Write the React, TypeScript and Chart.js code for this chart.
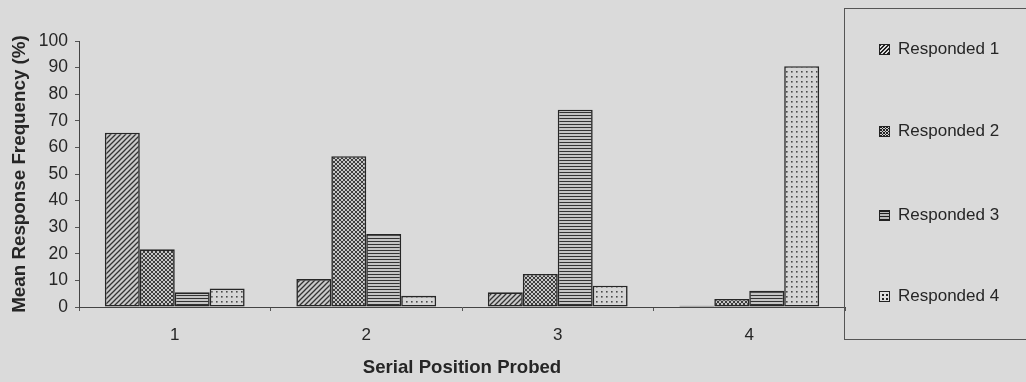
import React, { useEffect, useRef } from 'react';
import { Chart, registerables } from 'chart.js';

Chart.register(...registerables);

const categories = ['1', '2', '3', '4'];
const seriesLabels = ['Responded 1', 'Responded 2', 'Responded 3', 'Responded 4'];
const responded1 = [65.5, 10.5, 5.5, 0.5];
const responded2 = [21.7, 56.7, 12.4, 3.0];
const responded3 = [5.5, 27.4, 74.2, 6.1];
const responded4 = [7.0, 4.2, 8.0, 90.5];
const yMin = 0;
const yMax = 100;
const yStep = 10;
const xTitle = 'Serial Position Probed';
const yTitle = 'Mean Response Frequency (%)';

const BG = '#dadada';
const INK = '#262626';
const FONT = 'Arial, "Liberation Sans", sans-serif';

function makePattern(kind: string): CanvasPattern | string {
  const c = document.createElement('canvas');
  const ctx = c.getContext('2d');
  if (!ctx) return '#999';
  if (kind === 'diag') {
    const s = 5;
    c.width = s; c.height = s;
    ctx.fillStyle = '#cacaca';
    ctx.fillRect(0, 0, s, s);
    ctx.strokeStyle = '#333';
    ctx.lineWidth = 1.3;
    ctx.beginPath();
    ctx.moveTo(-1, 1); ctx.lineTo(1, -1);
    ctx.moveTo(0, s); ctx.lineTo(s, 0);
    ctx.moveTo(s - 1, s + 1); ctx.lineTo(s + 1, s - 1);
    ctx.stroke();
  } else if (kind === 'cross') {
    const s = 4;
    c.width = s; c.height = s;
    ctx.fillStyle = '#c6c6c6';
    ctx.fillRect(0, 0, s, s);
    ctx.strokeStyle = '#3c3c3c';
    ctx.lineWidth = 1;
    ctx.beginPath();
    ctx.moveTo(0, 0); ctx.lineTo(s, s);
    ctx.moveTo(0, s); ctx.lineTo(s, 0);
    ctx.stroke();
  } else if (kind === 'horiz') {
    const s = 3;
    c.width = s; c.height = s;
    ctx.fillStyle = '#c4c4c4';
    ctx.fillRect(0, 0, s, s);
    ctx.fillStyle = '#333';
    ctx.fillRect(0, 1, s, 1);
  } else {
    const s = 5;
    c.width = s; c.height = s;
    ctx.fillStyle = '#d6d6d6';
    ctx.fillRect(0, 0, s, s);
    ctx.fillStyle = '#4a4a4a';
    ctx.fillRect(1, 1, 1.6, 1.6);
  }
  return ctx.createPattern(c, 'repeat') || '#999';
}

const swatchStyles: React.CSSProperties[] = [
  { background: 'repeating-linear-gradient(135deg, #222 0 1.3px, #ddd 1.3px 2.8px)' },
  { background: '#777', backgroundImage: 'repeating-linear-gradient(45deg, #222 0 1px, transparent 1px 2.2px), repeating-linear-gradient(135deg, #222 0 1px, #ccc 1px 2.2px)' },
  { background: 'repeating-linear-gradient(0deg, #222 0 1.4px, #bbb 1.4px 2.8px)' },
  { background: '#ddd', backgroundImage: 'radial-gradient(#222 0.9px, transparent 1.1px)', backgroundSize: '4px 4px', backgroundPosition: '1px 1px' },
];

const legendY = [49, 131, 215, 296];

export default function App() {
  const canvasRef = useRef<HTMLCanvasElement | null>(null);

  useEffect(() => {
    const canvas = canvasRef.current;
    if (!canvas) return;
    const fills = [makePattern('diag'), makePattern('cross'), makePattern('horiz'), makePattern('dots')];
    const values = [responded1, responded2, responded3, responded4];
    const chart = new Chart(canvas, {
      type: 'bar',
      data: {
        labels: categories,
        datasets: seriesLabels.map((label, i) => ({
          label,
          data: values[i],
          backgroundColor: fills[i] as any,
          borderColor: INK,
          borderWidth: 1.6,
          borderSkipped: false as const,
          categoryPercentage: 0.73,
          barPercentage: 1,
        })),
      },
      options: {
        animation: false,
        responsive: true,
        maintainAspectRatio: false,
        layout: { padding: { top: 41, right: 181, left: 0, bottom: 0 } },
        plugins: {
          legend: { display: false },
          tooltip: { enabled: false },
        },
        scales: {
          x: {
            grid: {
              display: true,
              drawOnChartArea: false,
              drawTicks: true,
              tickLength: 4,
              color: '#555',
            },
            border: { display: true, color: '#444', width: 1 },
            ticks: {
              color: INK,
              font: { family: FONT, size: 17 },
              padding: 14,
            },
            title: {
              display: true,
              text: xTitle,
              color: INK,
              font: { family: FONT, size: 18.6, weight: 'bold' },
              padding: { top: 4, bottom: 3 },
            },
            afterFit: (s: any) => { s.height = 75; },
          },
          y: {
            min: yMin,
            max: yMax,
            ticks: {
              stepSize: yStep,
              color: INK,
              font: { family: FONT, size: 17.5 },
              padding: 7,
            },
            grid: {
              display: true,
              drawOnChartArea: false,
              drawTicks: true,
              tickLength: 4,
              color: '#555',
            },
            border: { display: true, color: '#444', width: 1 },
            title: {
              display: true,
              text: yTitle,
              color: INK,
              font: { family: FONT, size: 18.8, weight: 'bold' },
              padding: { top: 9, bottom: 2 },
            },
            afterFit: (s: any) => { s.width = 79; },
          },
        },
      },
    });
    return () => chart.destroy();
  }, []);

  return (
    <div style={{ position: 'fixed', left: 0, top: 0, width: 1026, height: 382, background: BG, overflow: 'hidden' }}>
      <canvas ref={canvasRef} style={{ position: 'absolute', left: 0, top: 0, width: 1026, height: 382 }} />
      <div style={{ position: 'absolute', left: 844, top: 8, width: 200, height: 332, border: '1px solid #555', boxSizing: 'border-box' }} />
      {seriesLabels.map((label, i) => (
        <div key={label} style={{ position: 'absolute', left: 879, top: legendY[i] - 10, height: 20, display: 'flex', alignItems: 'center', fontFamily: FONT, fontSize: 17, color: INK, whiteSpace: 'nowrap' }}>
          <span style={{ display: 'inline-block', width: 9, height: 9, border: '1px solid #222', marginRight: 8, ...swatchStyles[i] }} />
          <span>{label}</span>
        </div>
      ))}
    </div>
  );
}
